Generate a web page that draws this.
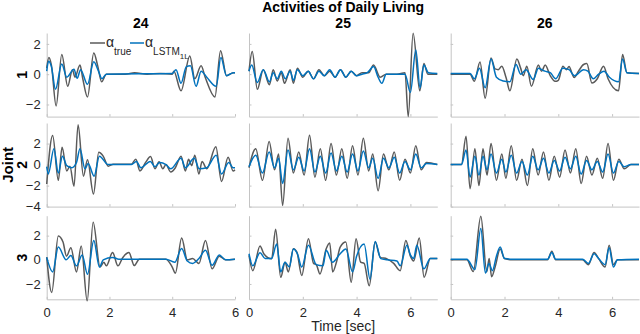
<!DOCTYPE html>
<html>
<head>
<meta charset="utf-8">
<script src="https://cdn.jsdelivr.net/npm/d3@7"></script>
<style>
  body { margin: 0; background: #fff; }
  text { font-family: "Liberation Sans", Arial, sans-serif; }
</style>
</head>
<body>
<div id="chart"></div>
<script>
//-----------------------------DATA-----------------------------//
const subjects = ["24", "25", "26"];
const joints = ["1", "2", "3"];
const xTicks = [0, 2, 4, 6];
const yTicksJ1 = [-2, 0, 2];
const yTicksJ2 = [-4, -2, 0, 2];
const yTicksJ3 = [-2, 0, 2];
const xMaxBySubject = [6, 7, 7];
const yRangeJ1 = [-2.8, 2.72];
const yRangeJ2 = [-4, 3.96];
const yRangeJ3 = [-3.27, 3.65];

// [time, value] pairs read at turning points of each trace
const true24j1 = [[0,0.4],[0.07,1.1],[0.15,0.6],[0.3,-2.1],[0.48,1.3],[0.67,-0.8],[0.82,0.3],[0.9,-0.2],[1.06,0.6],[1.15,-0.3],[1.3,-1.5],[1.5,1.4],[1.62,0.6],[1.75,-0.5],[1.9,0],[2.5,0],[2.8,0.1],[3.2,0],[3.6,0.05],[4.0,0],[4.05,0.2],[4.28,-1.1],[4.56,1.2],[4.72,-0.3],[4.92,0.55],[5.05,-0.2],[5.36,-1.5],[5.54,1.55],[5.73,-0.1],[5.95,0.1],[6,0.1]];
const lstm24j1 = [[0,0.2],[0.06,0.85],[0.15,0.5],[0.28,-1.0],[0.48,0.67],[0.64,-0.2],[0.87,0.33],[0.97,-0.27],[1.08,0.3],[1.3,-0.67],[1.5,0.82],[1.65,0.2],[1.76,-0.3],[1.9,0],[4.0,0.05],[4.12,0.3],[4.28,-0.6],[4.45,0.5],[4.58,0.55],[4.76,-0.8],[4.92,0.2],[5.1,-0.2],[5.4,-0.8],[5.55,1.1],[5.73,-0.1],[5.95,0.1],[6,0.1]];
const true25j1 = [[0,0.2],[0.12,1.5],[0.31,-1.0],[0.53,0.3],[0.76,-0.7],[0.9,0.3],[1.05,-0.45],[1.2,0.1],[1.32,-0.6],[1.53,0.3],[1.65,-0.6],[1.8,0.4],[2.0,-0.2],[2.2,0.2],[2.4,-0.3],[2.6,0.3],[2.8,-0.1],[3.0,0.2],[3.2,-0.2],[3.4,0.3],[3.6,-0.2],[3.8,0.2],[4.0,-0.1],[4.2,0.1],[4.45,0.1],[4.63,0.6],[4.88,-0.2],[5.1,0],[5.5,0],[5.8,0.1],[5.92,-2.8],[6.1,2.7],[6.35,-1.1],[6.5,0.7],[6.65,0],[7,0]];
const lstm25j1 = [[0,0.2],[0.1,0.6],[0.31,-0.55],[0.53,0.3],[0.76,-0.5],[0.9,0.1],[1.05,-0.3],[1.2,0.2],[1.35,-0.3],[1.53,0.2],[1.65,-0.4],[1.8,0.3],[2.0,-0.1],[2.2,0.2],[2.4,-0.3],[2.6,0.2],[2.8,-0.1],[3.0,0.3],[3.2,-0.2],[3.4,0.3],[3.6,-0.2],[3.8,0.2],[4.0,-0.1],[4.2,0],[4.4,0.1],[4.63,0.5],[4.8,-0.2],[4.94,-0.6],[5.1,0],[5.8,0],[6.0,-1.2],[6.2,1.6],[6.36,-0.9],[6.5,0.6],[6.67,0.1],[7,0.05]];
const true26j1 = [[0,0],[0.72,0],[0.88,-0.47],[1.09,0.8],[1.28,-1.58],[1.5,1.07],[1.65,0.35],[1.77,0.3],[1.9,0.53],[2.06,-0.24],[2.2,-1.1],[2.46,1.0],[2.6,0.4],[2.7,-0.1],[2.83,0.53],[3.0,-0.8],[3.26,0.6],[3.38,0.2],[3.51,0.6],[3.7,-0.1],[3.88,-0.47],[4.0,-0.4],[4.17,0.53],[4.3,0.3],[4.4,0.5],[4.52,0],[4.59,-0.22],[4.75,0.2],[4.94,0.64],[5.06,0.7],[5.25,-0.58],[5.45,-0.3],[5.68,0.53],[5.85,-0.3],[6.24,-1.1],[6.39,1.3],[6.55,0.1],[7,0.05]];
const lstm26j1 = [[0,0.05],[0.72,0.05],[0.88,-0.3],[1.07,0.4],[1.28,-0.9],[1.5,1.0],[1.7,-0.2],[1.95,-0.45],[2.2,-0.5],[2.43,0.64],[2.6,0],[2.8,0.3],[3.07,-0.35],[3.26,0.4],[3.5,0.2],[3.7,0.1],[3.9,-0.3],[4.17,0.4],[4.4,0.3],[4.6,-0.1],[4.94,0.3],[5.1,0.2],[5.3,-0.3],[5.5,0],[5.7,0.2],[5.9,-0.2],[6.24,-0.5],[6.39,1.0],[6.55,0.1],[7,0.05]];

const true24j2 = [[0,-1.85],[0.19,2.78],[0.37,-1.5],[0.49,1.64],[0.64,-0.6],[0.74,-0.15],[0.87,-2.07],[1.0,3.8],[1.17,-1.1],[1.3,0.46],[1.49,-2.8],[1.66,1.17],[1.8,0.8],[1.96,-0.15],[2.12,0.03],[2.7,0.03],[2.84,0.52],[2.97,-0.6],[3.15,0.2],[3.31,0.77],[3.45,-0.4],[3.58,0.27],[3.7,-0.4],[3.8,0],[3.95,-0.7],[4.1,-0.3],[4.28,0.8],[4.42,-0.6],[4.52,0.5],[4.62,-0.1],[4.72,0.9],[4.85,-0.9],[4.95,0.3],[5.1,-0.4],[5.39,1.7],[5.57,-1.6],[5.78,0.7],[5.94,-0.6],[6,-0.5]];
const lstm24j2 = [[0,-0.2],[0.05,-0.9],[0.23,1.5],[0.37,-0.8],[0.5,0.8],[0.64,-0.1],[0.8,-0.3],[0.95,0.2],[1.06,1.5],[1.22,-0.4],[1.32,0.1],[1.51,-1.1],[1.68,0.8],[1.96,0],[2.7,0],[2.86,0.3],[3.0,-0.3],[3.3,0.3],[3.45,-0.2],[3.6,0.2],[3.8,0],[3.95,-0.4],[4.28,0.6],[4.42,-0.3],[4.7,0.6],[4.86,-0.4],[5.1,-0.3],[5.4,0.9],[5.57,-0.9],[5.8,0.2],[5.94,-0.3],[6,-0.3]];
const true25j2 = [[0,-0.3],[0.25,1.5],[0.5,-1.5],[0.75,2.2],[0.95,-0.5],[1.1,1.0],[1.25,-3.9],[1.45,2.5],[1.65,-0.8],[1.85,1.2],[2.05,-1.0],[2.25,2.8],[2.45,-1.2],[2.65,1.5],[2.85,-1.5],[3.05,2.0],[3.25,-1.0],[3.45,1.5],[3.65,-1.3],[3.85,1.8],[4.05,-1.0],[4.25,2.5],[4.45,-0.6],[4.6,1.0],[4.8,-2.5],[5.0,1.0],[5.2,-0.5],[5.4,1.2],[5.6,-1.5],[5.8,0.5],[6.0,-0.8],[6.2,1.8],[6.4,-0.5],[6.6,0.2],[7,0]];
const lstm25j2 = [[0,-0.2],[0.25,0.9],[0.5,-0.8],[0.75,1.2],[0.95,-0.3],[1.1,0.6],[1.25,-1.8],[1.45,1.4],[1.65,-0.5],[1.85,0.7],[2.05,-0.6],[2.25,1.5],[2.45,-0.7],[2.65,0.8],[2.85,-0.8],[3.05,1.1],[3.25,-0.6],[3.45,0.8],[3.65,-0.7],[3.85,1.0],[4.05,-0.6],[4.25,1.3],[4.45,-0.3],[4.6,0.6],[4.8,-1.3],[5.0,0.6],[5.2,-0.3],[5.4,0.7],[5.6,-0.8],[5.8,0.3],[6.0,-0.5],[6.2,1.0],[6.4,-0.3],[6.6,0.1],[7,0]];
const true26j2 = [[0,0],[0.4,0],[0.57,2.7],[0.72,-2.3],[0.9,1.5],[1.05,-2.0],[1.2,1.5],[1.35,-1.0],[1.5,2.0],[1.7,-1.5],[1.9,1.0],[2.05,-1.3],[2.25,1.8],[2.45,-1.5],[2.65,0.5],[2.85,-2.0],[3.05,1.5],[3.25,-1.0],[3.45,1.2],[3.65,-1.5],[3.85,0.8],[4.05,-1.2],[4.25,1.4],[4.45,-0.8],[4.65,1.5],[4.85,-1.8],[5.05,0.8],[5.25,-1.0],[5.45,0.6],[5.65,-1.3],[5.85,2.0],[6.05,-1.5],[6.25,0.5],[6.45,-0.4],[6.7,0],[7,0]];
const lstm26j2 = [[0,0],[0.4,0],[0.57,1.4],[0.72,-1.2],[0.9,0.8],[1.05,-1.0],[1.2,0.8],[1.35,-0.5],[1.5,1.0],[1.7,-0.8],[1.9,0.5],[2.05,-0.7],[2.25,0.9],[2.45,-0.8],[2.65,0.3],[2.85,-1.0],[3.05,0.8],[3.25,-0.5],[3.45,0.6],[3.65,-0.8],[3.85,0.4],[4.05,-0.6],[4.25,0.7],[4.45,-0.4],[4.65,0.8],[4.85,-0.9],[5.05,0.4],[5.25,-0.5],[5.45,0.3],[5.65,-0.7],[5.85,1.0],[6.05,-0.8],[6.25,0.3],[6.45,-0.2],[6.7,0],[7,0]];

const true24j3 = [[0,0.22],[0.16,-2.7],[0.37,1.97],[0.52,1.47],[0.63,0.3],[0.77,1.0],[0.95,-1.0],[1.1,1.14],[1.29,-3.4],[1.48,3.1],[1.7,-0.6],[1.82,-0.2],[1.9,-0.5],[2.1,0.6],[2.27,-0.5],[2.42,0.17],[2.62,0.6],[2.79,-0.48],[2.95,0.05],[3.8,0.05],[4.0,-0.6],[4.1,-1.1],[4.3,1.8],[4.48,0],[4.65,0.1],[4.85,-0.3],[5.06,1.6],[5.27,-0.75],[5.5,0.3],[5.7,0],[6,0.05]];
const lstm24j3 = [[0,0.2],[0.19,-1.0],[0.37,1.05],[0.62,0],[0.77,0.36],[0.95,-0.5],[1.13,0.4],[1.3,-1.2],[1.5,1.6],[1.68,-0.6],[1.8,0],[2.1,0.2],[2.3,0.05],[3.8,0.05],[4.08,-0.2],[4.3,0.93],[4.48,-0.1],[4.65,-0.3],[4.85,0.1],[5.06,0.78],[5.27,-0.45],[5.5,0.4],[5.7,0],[6,0.05]];
const true25j3 = [[0,0.36],[0.14,-0.9],[0.41,1.14],[0.55,0.5],[0.84,0.08],[0.99,2.53],[1.18,-1.45],[1.34,-0.2],[1.46,-1.0],[1.65,0.91],[1.78,0.63],[1.96,-1.3],[2.21,1.75],[2.4,-0.3],[2.5,-0.4],[2.64,-1.17],[2.87,0.91],[3.0,1.4],[3.11,-1.0],[3.25,-0.2],[3.39,1.05],[3.6,1.47],[3.8,-1.86],[3.98,1.75],[4.15,-0.2],[4.28,-0.3],[4.47,-2.15],[4.69,1.47],[4.88,0.2],[5.13,0.08],[5.38,-0.3],[5.62,-0.9],[5.83,1.6],[6.0,0.3],[6.12,-0.1],[6.33,1.8],[6.51,-1.45],[6.74,0.1],[7,0.1]];
const lstm25j3 = [[0,0.5],[0.14,-0.5],[0.41,0.58],[0.6,0.1],[0.84,0.1],[1.03,1.3],[1.18,-1.0],[1.34,-0.2],[1.5,-0.6],[1.65,0.9],[1.8,0.5],[1.96,-0.6],[2.21,1.2],[2.5,-0.4],[2.75,-0.5],[2.87,0.78],[3.1,-0.2],[3.39,0.5],[3.6,0.9],[3.85,-1.0],[4.0,0.3],[4.28,1.3],[4.5,-1.6],[4.69,1.52],[4.9,0.1],[5.13,0],[5.5,-0.1],[5.62,-0.5],[5.87,1.2],[6.0,0.4],[6.12,0.1],[6.24,1.2],[6.5,-0.75],[6.74,0.1],[7,0.1]];
const true26j3 = [[0,0],[0.6,0],[0.84,-0.97],[1.12,3.6],[1.34,-1.0],[1.43,0.1],[1.52,-1.4],[1.65,-0.6],[1.84,0.9],[2.0,0.1],[2.3,0],[3.6,0],[3.76,0.7],[3.9,0],[4.9,0],[5.12,-0.4],[5.33,0.6],[5.5,0.1],[5.74,-0.6],[5.89,1.2],[6.05,-0.4],[6.2,0],[7,0]];
const lstm26j3 = [[0,0.05],[0.6,0.05],[0.9,-0.8],[1.12,2.6],[1.29,-1.1],[1.42,-0.3],[1.55,-0.9],[1.7,0.3],[1.84,1.05],[2.0,0.1],[2.3,0.05],[3.6,0.05],[3.76,0.6],[3.9,0.05],[4.9,0.05],[5.12,-0.3],[5.33,0.5],[5.5,0.1],[5.74,-0.4],[5.89,1.0],[6.05,-0.6],[6.2,0],[7,0.05]];

const trueSeries = [
  [true24j1, true25j1, true26j1],
  [true24j2, true25j2, true26j2],
  [true24j3, true25j3, true26j3],
];
const lstmSeries = [
  [lstm24j1, lstm25j1, lstm26j1],
  [lstm24j2, lstm25j2, lstm26j2],
  [lstm24j3, lstm25j3, lstm26j3],
];
const yRanges = [yRangeJ1, yRangeJ2, yRangeJ3];
const yTicksByJoint = [yTicksJ1, yTicksJ2, yTicksJ3];

//-----------------------------LAYOUT---------------------------//
const width = 640;
const height = 334;
const colLeft = [46.7, 249, 450.7];
const colWidth = 188.3;
const rowTop = [33, 123, 215.7];
const rowHeight = 83.6;
const grayLine = "#5a5a5a";
const blueLine = "#0072bd";
const axisGray = "#c4c4c4";
const textDark = "#262626";

const svg = d3
  .select("#chart")
  .append("svg")
  .attr("width", width)
  .attr("height", height);

//-----------------------------PANELS---------------------------//
joints.forEach(function (joint, r) {
  subjects.forEach(function (subject, c) {
    const x = d3
      .scaleLinear()
      .domain([0, xMaxBySubject[c]])
      .range([colLeft[c], colLeft[c] + colWidth]);
    const y = d3
      .scaleLinear()
      .domain(yRanges[r])
      .range([rowTop[r] + rowHeight, rowTop[r]]);

    const g = svg.append("g").attr("class", "panel");

    const xaxis = d3
      .axisBottom(x)
      .tickValues(xTicks)
      .tickSizeInner(-2.5)
      .tickSizeOuter(0)
      .tickPadding(8)
      .tickFormat(r === 2 ? d3.format("d") : "");
    const yaxis = d3
      .axisLeft(y)
      .tickValues(yTicksByJoint[r])
      .tickSizeInner(-2.5)
      .tickSizeOuter(0)
      .tickPadding(6)
      .tickFormat(c === 0 ? d3.format("d") : "");

    g.append("g")
      .attr("transform", `translate(0, ${rowTop[r] + rowHeight})`)
      .call(xaxis);
    g.append("g")
      .attr("transform", `translate(${colLeft[c]}, 0)`)
      .call(yaxis);

    g.selectAll(".domain").attr("stroke", axisGray).attr("stroke-width", 1);
    g.selectAll(".tick line").attr("stroke", axisGray);
    g.selectAll(".tick text")
      .attr("fill", textDark)
      .style("font-size", "13px")
      .style("font-family", "'Liberation Sans', Arial, sans-serif");

    const line = d3
      .line()
      .curve(d3.curveMonotoneX)
      .x(function (d) {
        return x(d[0]);
      })
      .y(function (d) {
        return y(d[1]);
      });

    g.append("path")
      .datum(trueSeries[r][c])
      .attr("fill", "none")
      .attr("stroke", grayLine)
      .attr("stroke-width", 1.5)
      .attr("d", line);

    g.append("path")
      .datum(lstmSeries[r][c])
      .attr("fill", "none")
      .attr("stroke", blueLine)
      .attr("stroke-width", 1.5)
      .attr("d", line);
  });
});

//-----------------------------TEXT-----------------------------//
svg
  .append("text")
  .attr("x", colLeft[1] + colWidth / 2)
  .attr("y", 12)
  .attr("text-anchor", "middle")
  .style("font-size", "14px")
  .style("font-weight", "bold")
  .attr("fill", "#000")
  .text("Activities of Daily Living");

subjects.forEach(function (s, c) {
  svg
    .append("text")
    .attr("x", colLeft[c] + colWidth / 2)
    .attr("y", 28)
    .attr("text-anchor", "middle")
    .style("font-size", "14px")
    .style("font-weight", "bold")
    .attr("fill", "#000")
    .text(s);
});

joints.forEach(function (j, r) {
  svg
    .append("text")
    .attr("transform", `translate(27, ${rowTop[r] + rowHeight / 2}) rotate(-90)`)
    .attr("text-anchor", "middle")
    .style("font-size", "14px")
    .style("font-weight", "bold")
    .attr("fill", "#000")
    .text(j);
});

svg
  .append("text")
  .attr("transform", `translate(13, ${rowTop[1] + rowHeight / 2}) rotate(-90)`)
  .attr("text-anchor", "middle")
  .style("font-size", "15px")
  .style("font-weight", "bold")
  .attr("fill", "#000")
  .text("Joint");

svg
  .append("text")
  .attr("x", colLeft[1] + colWidth / 2)
  .attr("y", 331)
  .attr("text-anchor", "middle")
  .style("font-size", "14px")
  .attr("fill", textDark)
  .text("Time [sec]");

//-----------------------------LEGEND---------------------------//
const legend = svg.append("g").attr("class", "legend");
legend
  .append("line")
  .attr("x1", 90).attr("x2", 105).attr("y1", 43).attr("y2", 43)
  .attr("stroke", grayLine).attr("stroke-width", 1.5);
const lt1 = legend
  .append("text")
  .attr("x", 106)
  .attr("y", 47)
  .style("font-size", "14px")
  .attr("fill", textDark);
lt1.append("tspan").text("α");
lt1.append("tspan").attr("dy", 8).style("font-size", "10px").text("true");

legend
  .append("line")
  .attr("x1", 130).attr("x2", 144).attr("y1", 43).attr("y2", 43)
  .attr("stroke", blueLine).attr("stroke-width", 1.5);
const lt2 = legend
  .append("text")
  .attr("x", 145)
  .attr("y", 47)
  .style("font-size", "14px")
  .attr("fill", textDark);
lt2.append("tspan").text("α");
lt2.append("tspan").attr("dy", 8).style("font-size", "10px").text("LSTM");
lt2.append("tspan").attr("dy", 4).style("font-size", "8px").text("1L");
</script>
</body>
</html>
